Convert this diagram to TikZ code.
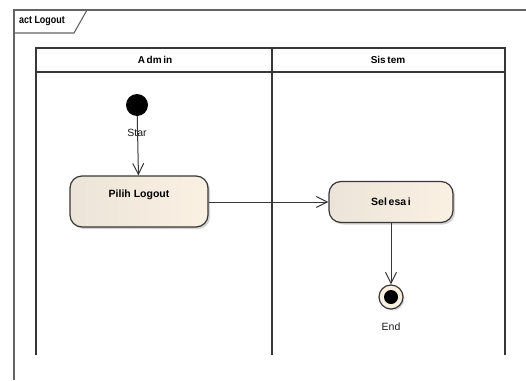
\documentclass[tikz,border=0pt]{standalone}
\usepackage{fontspec}
\setmainfont{Liberation Sans}
\usetikzlibrary{arrows.meta,shadows}
\definecolor{creamL}{RGB}{236,228,216}
\definecolor{creamR}{RGB}{250,241,227}
\definecolor{edgec}{RGB}{55,55,55}
\definecolor{framec}{RGB}{100,100,100}
\tikzset{
  action/.style={rounded corners=12pt, draw=edgec, line width=1.2pt,
    left color=creamL, right color=creamR, inner sep=0pt,
    drop shadow={shadow xshift=2pt, shadow yshift=-2pt, opacity=0.35},
    font=\fontsize{10.5}{12}\selectfont\bfseries},
  flow/.style={draw=edgec, line width=1pt, -{Straight Barb[length=11pt,width=11pt,line width=1pt]}},
  lane/.style={draw=edgec, line width=1.4pt},
  lbl/.style={font=\fontsize{10.5}{12}\selectfont, text=black!90, inner sep=0pt},
  hdr/.style={font=\fontsize{10}{11}\selectfont\bfseries, inner sep=0pt},
}
\begin{document}
\begin{tikzpicture}[x=1pt,y=-1pt]
\useasboundingbox (0,0) rectangle (526,380);
% frame
\draw[draw=framec, line width=1.4pt] (14,380) -- (14,10) -- (526,10);
\draw[draw=framec, line width=1.1pt] (14,33) -- (74,33) -- (87,10);
\node[font=\fontsize{10.5}{12}\selectfont\bfseries, inner sep=0pt, anchor=west, xscale=0.85] (frametitle) at (19,21.5) {act Logout};
% swimlanes
\draw[lane] (36,355) -- (36,48) -- (505,48) -- (505,355);
\draw[lane] (36,72) -- (505,72);
\draw[lane] (272,48) -- (272,355);
\node[hdr] (admin) at (155,60) {A\,dm\,in};
\node[hdr] (sistem) at (388,60) {Sis\,tem};
% nodes
\node[circle, fill=black, minimum size=22pt, inner sep=0pt] (start) at (137,105) {};
\node[action, minimum width=138pt, minimum height=51pt, text height=7.5pt, text depth=15.5pt] (pilih) at (139,201.5) {Pilih Logout};
\node[action, minimum width=124pt, minimum height=41pt] (selesai) at (391,202) {Sel\,esa\,i};
\node[circle, draw=edgec, line width=1.2pt, fill=creamR, minimum size=24pt, inner sep=0pt,
  drop shadow={shadow xshift=1.5pt, shadow yshift=-1.5pt, opacity=0.35},
  path picture={\fill[black] (path picture bounding box.center) circle (7pt);}] (end) at (391,297) {};
% connectors
\draw[flow] (start) -- (pilih);
\draw[flow] (pilih.east |- selesai.west) -- (selesai.west);
\draw[flow] (selesai) -- (end);
% labels
\node[lbl] (startlbl) at (137,133) {Star};
\node[lbl] (endlbl) at (391,327) {End};
\end{tikzpicture}
\end{document}
